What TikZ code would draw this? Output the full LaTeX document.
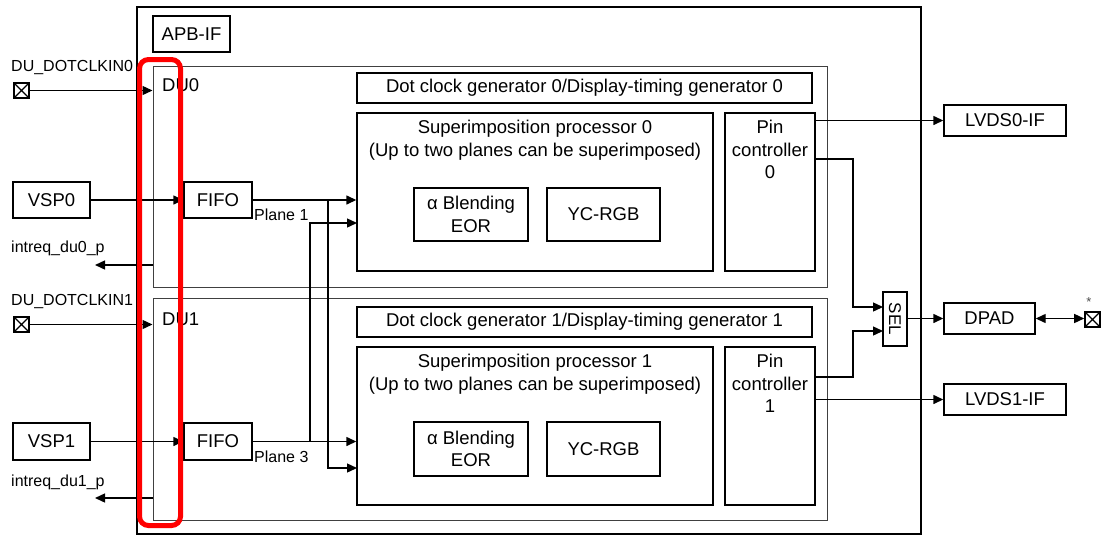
\documentclass[tikz,border=0pt]{standalone}
\usepackage{fontspec}
\setmainfont{Liberation Sans}
\usetikzlibrary{arrows.meta}
\newcommand\fmain{\fontsize{18.5}{22.5}\selectfont}
\newcommand\flab{\fontsize{16}{19}\selectfont}
\begin{document}
\begin{tikzpicture}[x=1pt,y=-1pt,
  box/.style={draw, line width=1.4pt, inner sep=0pt, font=\fmain, align=center},
  dubox/.style={draw=black!75, line width=1pt, inner sep=0pt},
  toptext/.style={anchor=north, inner sep=0pt, font=\fmain, align=center},
  lab/.style={anchor=base west, inner sep=0pt, font=\flab},
  arr/.style={line width=1.4pt, -{Triangle[length=10pt,width=9pt]}},
  arrtwo/.style={line width=1.4pt, {Triangle[length=10pt,width=9pt]}-{Triangle[length=10pt,width=9pt]}},
  pad/.style={draw, line width=1.6pt, minimum size=15pt, inner sep=0pt,
    path picture={\draw[line width=1.2pt] (path picture bounding box.north west) -- (path picture bounding box.south east)
      (path picture bounding box.north east) -- (path picture bounding box.south west);}}]
\useasboundingbox (0,0) rectangle (1103,536);

% frames
\node[draw, line width=2pt, minimum width=784pt, minimum height=527pt, inner sep=0pt] (outer) at (529,270.5) {};
\node[box, minimum width=77pt, minimum height=36pt] (apb) at (191.5,34) {APB-IF};
\node[dubox, minimum width=674pt, minimum height=221pt] (du0) at (490,176.5) {};
\node[dubox, minimum width=674pt, minimum height=222pt] (du1) at (490,409) {};
\node[anchor=base west, inner sep=0pt, font=\fmain] (du0t) at (162,91) {DU0};
\node[anchor=base west, inner sep=0pt, font=\fmain] (du1t) at (162,325) {DU1};

% DU0 contents
\node[box, minimum width=455pt, minimum height=30pt] (dcg0) at (584.5,88) {Dot clock generator 0/Display-timing generator 0};
\node[box, minimum width=356pt, minimum height=158pt] (sp0) at (535,192) {};
\node[toptext] (sp0t) at ([yshift=-8pt]sp0.north) {Superimposition processor 0\\(Up to two planes can be superimposed)};
\node[box, minimum width=90pt, minimum height=158pt] (pc0) at (770,192) {};
\node[toptext] (pc0t) at ([yshift=-8pt]pc0.north) {Pin\\controller\\0};
\node[box, minimum width=114pt, minimum height=53pt] (ab0) at (471,214.5) {α Blending\\EOR};
\node[box, minimum width=113pt, minimum height=53pt] (yc0) at (603.5,214.5) {YC-RGB};

% DU1 contents
\node[box, minimum width=455pt, minimum height=30pt] (dcg1) at (584.5,322) {Dot clock generator 1/Display-timing generator 1};
\node[box, minimum width=356pt, minimum height=158pt] (sp1) at (535,426) {};
\node[toptext] (sp1t) at ([yshift=-8pt]sp1.north) {Superimposition processor 1\\(Up to two planes can be superimposed)};
\node[box, minimum width=90pt, minimum height=158pt] (pc1) at (770,426) {};
\node[toptext] (pc1t) at ([yshift=-8pt]pc1.north) {Pin\\controller\\1};
\node[box, minimum width=114pt, minimum height=54pt] (ab1) at (471,449) {α Blending\\EOR};
\node[box, minimum width=113pt, minimum height=54pt] (yc1) at (603.5,449) {YC-RGB};

% inputs
\node[box, minimum width=77pt, minimum height=36pt] (vsp0) at (51.5,200) {VSP0};
\node[box, minimum width=68pt, minimum height=36pt] (fifo0) at (218,200) {FIFO};
\node[box, minimum width=77pt, minimum height=37pt] (vsp1) at (51.5,441.5) {VSP1};
\node[box, minimum width=68pt, minimum height=37pt] (fifo1) at (218,441.5) {FIFO};
\node[pad] (pad0) at (21.5,90.5) {};
\node[pad] (pad1) at (21.5,324.5) {};
\node[lab] (clk0) at (11,71) {DU\_DOTCLKIN0};
\node[lab] (clk1) at (11,305) {DU\_DOTCLKIN1};
\node[lab] (irq0) at (11,252) {intreq\_du0\_p};
\node[lab] (irq1) at (11,486) {intreq\_du1\_p};
\node[lab] (pl1) at (254,220) {Plane 1};
\node[lab] (pl3) at (254,462) {Plane 3};

% outputs
\node[box, minimum width=122pt, minimum height=31pt] (lvds0) at (1005,120.5) {LVDS0-IF};
\node[box, minimum width=91pt, minimum height=31pt] (dpad) at (989.5,318.5) {DPAD};
\node[box, minimum width=122pt, minimum height=31pt] (lvds1) at (1005,399.5) {LVDS1-IF};
\node[box, minimum width=24pt, minimum height=54pt] (sel) at (895,319) {};
\node[rotate=-90, inner sep=0pt, font=\fontsize{17}{20}\selectfont] (selt) at (sel.center) {SEL};
\node[pad] (pad2) at (1092.5,319.5) {};
\node[inner sep=0pt, font=\fontsize{13}{15}\selectfont, text=black!70] (ast) at (1089,302) {*};

% coordinates
\coordinate (b0) at (328,200);
\coordinate (b1) at (310,441.5);
\coordinate (in0b) at (357,223);
\coordinate (in1b) at (357,468);
\coordinate (iq0) at (95,265);
\coordinate (iq1) at (95,498);
\coordinate (k0) at (853,159);
\coordinate (k1) at (853,377);
\coordinate (s0) at (883,307);
\coordinate (s1) at (883,331);

% connectors
\draw[arr] (pad0.east) -- (pad0.east -| du0.west);
\draw[arr] (pad1.east) -- (pad1.east -| du1.west);
\draw[arr] (vsp0) -- (fifo0);
\draw[arr] (vsp1) -- (fifo1);
\draw[arr] (fifo0.east) -- (fifo0.east -| sp0.west);
\draw[arr] (fifo1.east) -- (fifo1.east -| sp1.west);
\draw[arr] (b0) |- (in1b);
\draw[arr] (b1) |- (in0b);
\draw[arr] (iq0 -| du0.west) -- (iq0);
\draw[arr] (iq1 -| du1.west) -- (iq1);
\draw[arr] (pc0.east |- lvds0.west) -- (lvds0.west);
\draw[arr] (pc1.east |- lvds1.west) -- (lvds1.west);
\draw[arr] (pc0.east |- k0) -- (k0) |- (s0);
\draw[arr] (pc1.east |- k1) -- (k1) |- (s1);
\draw[arr] (sel.east |- dpad.west) -- (dpad.west);
\draw[arrtwo] (dpad.east) -- (dpad.east -| pad2.west);

% highlight
\draw[red, line width=5pt, rounded corners=9pt] (139.5,59.5) rectangle (180.5,525.5);
\end{tikzpicture}
\end{document}
